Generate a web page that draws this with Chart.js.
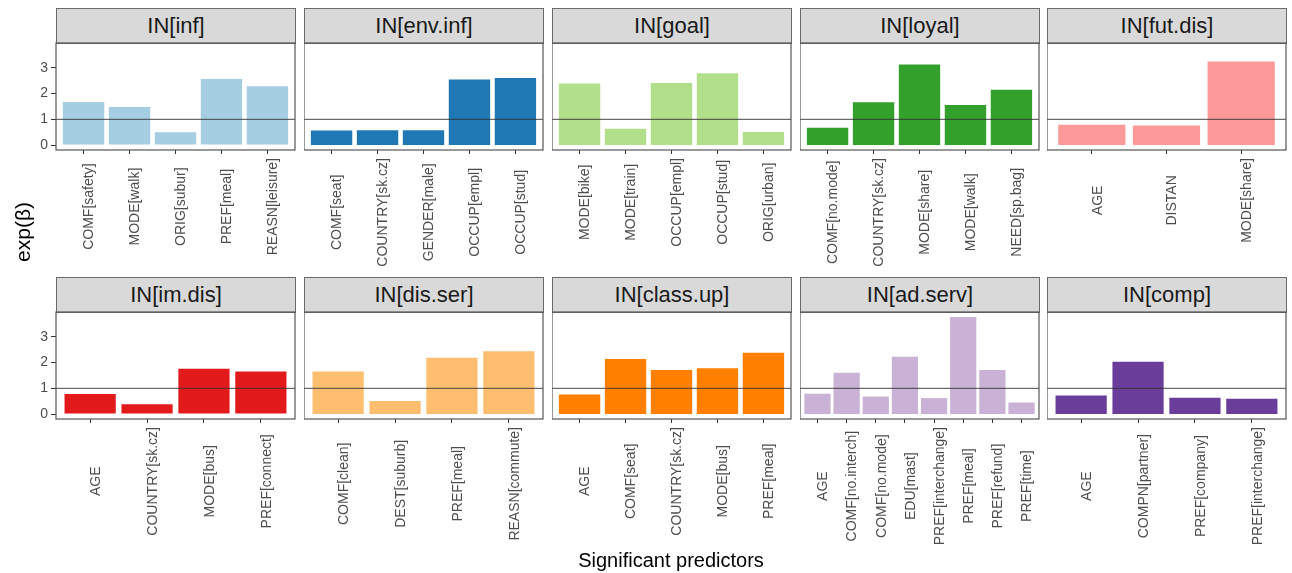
<!DOCTYPE html>
<html>
<head>
<meta charset="utf-8">
<script src="https://cdn.jsdelivr.net/npm/chart.js@4.4.1/dist/chart.umd.min.js"></script>
<style>
  body { margin: 0; background: #fff; font-family: "Liberation Sans", Arial, sans-serif; }
  #page { position: relative; width: 1292px; height: 573px; overflow: hidden; background: #fff; }
  .strip { position: absolute; box-sizing: border-box; background: #d9d9d9; border: 1px solid #6b6b6b;
           color: #1a1a1a; font-size: 22px; text-align: center; line-height: 33px; }
  .axis-title { position: absolute; color: #000; font-size: 20px; text-align: center; white-space: nowrap; }
  canvas { position: absolute; }
</style>
</head>
<body>
<div id="page"></div>
<script>
// facet titles, in reading order
const panelTitles = ['IN[inf]', 'IN[env.inf]', 'IN[goal]', 'IN[loyal]', 'IN[fut.dis]',
                     'IN[im.dis]', 'IN[dis.ser]', 'IN[class.up]', 'IN[ad.serv]', 'IN[comp]'];

// predictors per facet
const predictors = [
  ['COMF[safety]', 'MODE[walk]', 'ORIG[subur]', 'PREF[meal]', 'REASN[leisure]'],
  ['COMF[seat]', 'COUNTRY[sk.cz]', 'GENDER[male]', 'OCCUP[empl]', 'OCCUP[stud]'],
  ['MODE[bike]', 'MODE[train]', 'OCCUP[empl]', 'OCCUP[stud]', 'ORIG[urban]'],
  ['COMF[no.mode]', 'COUNTRY[sk.cz]', 'MODE[share]', 'MODE[walk]', 'NEED[sp.bag]'],
  ['AGE', 'DISTAN', 'MODE[share]'],
  ['AGE', 'COUNTRY[sk.cz]', 'MODE[bus]', 'PREF[connect]'],
  ['COMF[clean]', 'DEST[suburb]', 'PREF[meal]', 'REASN[commute]'],
  ['AGE', 'COMF[seat]', 'COUNTRY[sk.cz]', 'MODE[bus]', 'PREF[meal]'],
  ['AGE', 'COMF[no.interch]', 'COMF[no.mode]', 'EDU[mast]', 'PREF[interchange]', 'PREF[meal]', 'PREF[refund]', 'PREF[time]'],
  ['AGE', 'COMPN[partner]', 'PREF[company]', 'PREF[interchange]']
];

// exp(beta) per predictor
const expBeta = [
  [1.67, 1.48, 0.50, 2.56, 2.28],
  [0.57, 0.58, 0.58, 2.54, 2.60],
  [2.39, 0.63, 2.41, 2.79, 0.51],
  [0.67, 1.66, 3.13, 1.56, 2.15],
  [0.79, 0.76, 3.24],
  [0.78, 0.38, 1.76, 1.65],
  [1.65, 0.51, 2.19, 2.44],
  [0.76, 2.14, 1.71, 1.78, 2.38],
  [0.79, 1.60, 0.68, 2.22, 0.62, 3.77, 1.71, 0.45],
  [0.72, 2.03, 0.63, 0.60]
];

const yTicks = [0, 1, 2, 3];
const refLine = 1;

const palette = ['#a6cee3', '#1f78b4', '#b2df8a', '#33a02c', '#fb9a99',
                 '#e31a1c', '#fdbf6f', '#ff7f00', '#cab2d6', '#6a3d9a'];

const FONT = '"Liberation Sans", Arial, sans-serif';
const colLeft = [56, 304, 552, 800, 1047];
const panelW = 239;
const plotH = 107;
const rowStrip = [8, 277];
const stripH = 36;
const labelArea = 145;
const yAxisW = 56;

// rotated tick labels, centred on the longest label like ggplot
const xLabelsPlugin = {
  id: 'xLabels',
  afterDraw(chart) {
    const { ctx, chartArea, scales } = chart;
    const labels = chart.options.plugins.xLabels.labels;
    ctx.save();
    ctx.font = '14px ' + FONT;
    ctx.fillStyle = '#4d4d4d';
    const longest = Math.max(...labels.map(l => ctx.measureText(l).width));
    const cy = chartArea.bottom + 8 + longest / 2;
    labels.forEach((l, i) => {
      const x = scales.x.getPixelForValue(i);
      ctx.save();
      ctx.translate(x - 1, cy);
      ctx.rotate(-Math.PI / 2);
      ctx.textAlign = 'center';
      ctx.textBaseline = 'top';
      ctx.fillText(l, 0, 0);
      ctx.restore();
    });
    ctx.restore();
  }
};

// the y = 1 reference line and the panel frame
const framePlugin = {
  id: 'frame',
  afterDatasetsDraw(chart) {
    const { ctx, chartArea, scales } = chart;
    const y = scales.y.getPixelForValue(refLine);
    ctx.save();
    ctx.strokeStyle = '#333';
    ctx.lineWidth = 0.9;
    ctx.beginPath();
    ctx.moveTo(chartArea.left, y);
    ctx.lineTo(chartArea.right, y);
    ctx.stroke();
    ctx.strokeStyle = '#555';
    ctx.lineWidth = 1.2;
    ctx.strokeRect(chartArea.left, chartArea.top, chartArea.right - chartArea.left, chartArea.bottom - chartArea.top);
    ctx.restore();
  }
};

const page = document.getElementById('page');

panelTitles.forEach((title, p) => {
  const row = Math.floor(p / 5), col = p % 5;
  const labels = predictors[p];
  const vals = expBeta[p];
  const yw = col === 0 ? yAxisW : 0;

  const strip = document.createElement('div');
  strip.className = 'strip';
  strip.style.left = colLeft[col] + 'px';
  strip.style.top = rowStrip[row] + 'px';
  strip.style.width = (panelW + 1) + 'px';
  strip.style.height = stripH + 'px';
  strip.textContent = title;
  page.appendChild(strip);

  const canvas = document.createElement('canvas');
  const cw = yw + panelW + 2, ch = plotH + 1 + labelArea;
  canvas.width = cw; canvas.height = ch;
  canvas.style.width = cw + 'px'; canvas.style.height = ch + 'px';
  canvas.style.left = (colLeft[col] - yw) + 'px';
  canvas.style.top = (rowStrip[row] + stripH - 2) + 'px';
  page.appendChild(canvas);

  new Chart(canvas, {
    type: 'bar',
    data: {
      datasets: [{
        data: vals.map((v, i) => ({ x: i, y: v })),
        backgroundColor: palette[p],
        borderWidth: 0,
        barPercentage: 0.9,
        categoryPercentage: 1
      }]
    },
    options: {
      responsive: false,
      animation: false,
      events: [],
      layout: { padding: { top: 1, right: 2, left: 0, bottom: 0 } },
      plugins: { legend: { display: false }, tooltip: { enabled: false }, xLabels: { labels } },
      scales: {
        x: {
          type: 'linear',
          offset: false,
          min: -0.6,
          max: labels.length - 0.4,
          afterBuildTicks: s => { s.ticks = labels.map((_, i) => ({ value: i })); },
          ticks: { display: false },
          grid: { offset: false, drawOnChartArea: false, drawTicks: true, tickLength: 4, color: '#333' },
          border: { display: false },
          afterFit: s => { s.height = labelArea; s.paddingLeft = 0; s.paddingRight = 0; }
        },
        y: {
          display: col === 0,
          min: -0.19,
          max: 3.96,
          afterBuildTicks: s => { s.ticks = yTicks.map(v => ({ value: v })); },
          ticks: { color: '#4d4d4d', font: { family: FONT, size: 14 }, padding: 3 },
          grid: { drawOnChartArea: false, drawTicks: true, tickLength: 5, color: '#333' },
          border: { display: false },
          afterFit: s => { s.width = yw; s.paddingTop = 0; s.paddingBottom = 0; }
        }
      }
    },
    plugins: [xLabelsPlugin, framePlugin]
  });
});

const yTitle = document.createElement('div');
yTitle.className = 'axis-title';
yTitle.textContent = 'exp(β)';
yTitle.style.fontSize = '21px';
yTitle.style.left = (23 - 50) + 'px';
yTitle.style.top = (232 - 12) + 'px';
yTitle.style.width = '100px';
yTitle.style.lineHeight = '24px';
yTitle.style.transform = 'rotate(-90deg)';
page.appendChild(yTitle);

const xTitle = document.createElement('div');
xTitle.className = 'axis-title';
xTitle.textContent = 'Significant predictors';
xTitle.style.left = (671 - 150) + 'px';
xTitle.style.top = '548px';
xTitle.style.width = '300px';
xTitle.style.lineHeight = '24px';
page.appendChild(xTitle);
</script>
</body>
</html>
